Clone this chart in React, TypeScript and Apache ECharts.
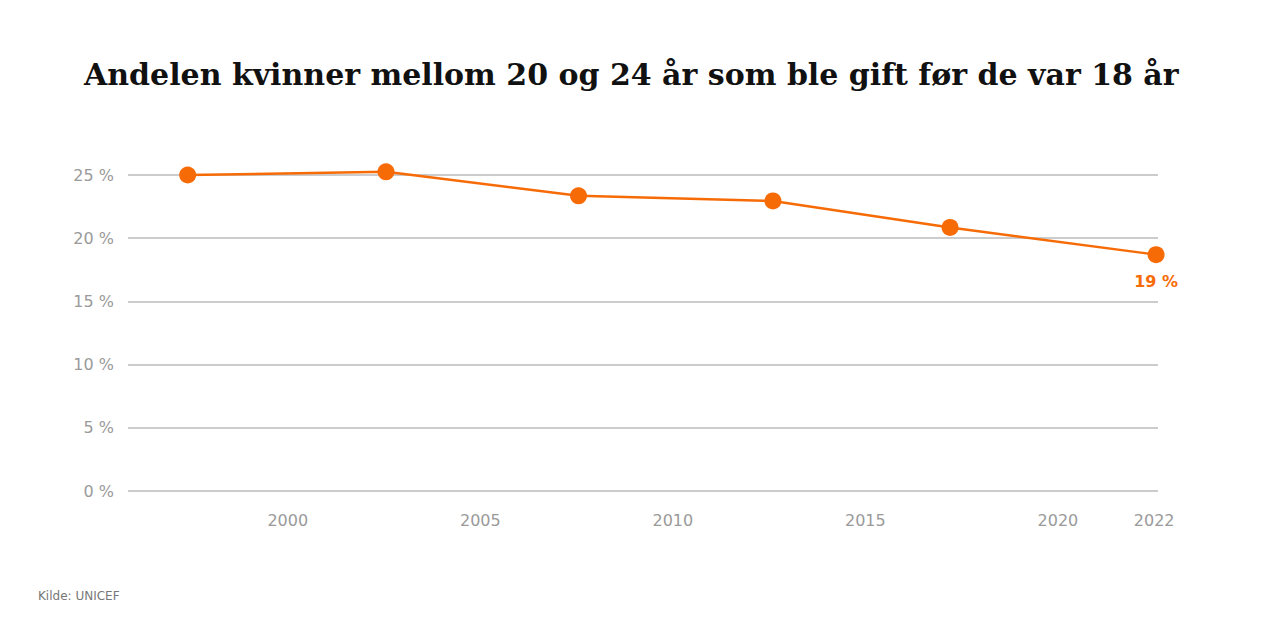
import React, { useEffect, useRef } from "react";
import * as echarts from "echarts";

const titleText = "Andelen kvinner mellom 20 og 24 år som ble gift før de var 18 år";
const sourceText = "Kilde: UNICEF";
const years = [1997.4, 2002.55, 2007.55, 2012.6, 2017.2, 2022.55];
const shares = [25.0, 25.25, 23.35, 22.95, 20.85, 18.7];
const lastLabel = "19 %";
const xTickValues = [2000, 2005, 2010, 2015, 2020, 2022.5];
const xTickLabels = ["2000", "2005", "2010", "2015", "2020", "2022"];
const yTicks = [0, 5, 10, 15, 20, 25];

const ORANGE = "#f76b07";

export default function App() {
  const ref = useRef<HTMLDivElement>(null);
  useEffect(() => {
    if (!ref.current) return;
    const chart = echarts.init(ref.current, null, { renderer: "svg" });
    chart.setOption({
      animation: false,
      backgroundColor: "#ffffff",
      title: {
        text: titleText,
        left: 71,
        top: 46,
        textStyle: {
          fontFamily: "DejaVu Serif",
          fontWeight: "bold",
          fontSize: 30,
          color: "#111111",
        },
      },
      graphic: [
        {
          type: "text",
          left: 30,
          top: 582,
          style: {
            text: sourceText,
            fontFamily: "DejaVu Sans",
            fontSize: 12,
            fill: "#777777",
          },
        },
      ],
      grid: { left: 120, right: 114, top: 167, bottom: 129, containLabel: false },
      xAxis: {
        type: "value",
        min: 1995.85,
        max: 2022.6,
        splitLine: { show: false },
        axisLine: { show: false },
        axisTick: { show: false },
        axisLabel: {
          customValues: xTickValues,
          formatter: (v: number) => {
            const i = xTickValues.findIndex((t) => Math.abs(t - v) < 0.01);
            return i >= 0 ? xTickLabels[i] : "";
          },
          margin: 21,
          fontFamily: "DejaVu Sans",
          fontSize: 16,
          color: "#9a9a9a",
        },
      },
      yAxis: {
        type: "value",
        min: 0,
        max: 25,
        interval: 5,
        axisLine: { show: false },
        axisTick: { show: false },
        splitLine: { lineStyle: { color: "#cccccc", width: 2 } },
        axisLabel: {
          formatter: (v: number) => (yTicks.includes(v) ? `${v} %` : ""),
          margin: 14,
          fontFamily: "DejaVu Sans",
          fontSize: 16,
          color: "#9a9a9a",
        },
      },
      series: [
        {
          type: "line",
          clip: false,
          data: years.map((y, i) => [y, shares[i]]),
          symbol: "circle",
          symbolSize: 17,
          lineStyle: { color: ORANGE, width: 2.5 },
          itemStyle: { color: ORANGE },
          label: {
            show: true,
            position: "bottom",
            distance: 10,
            formatter: (p: any) => (p.dataIndex === years.length - 1 ? lastLabel : ""),
            fontFamily: "DejaVu Sans",
            fontWeight: "bold",
            fontSize: 16,
            color: ORANGE,
          },
        },
      ],
    });
    return () => chart.dispose();
  }, []);
  return <div ref={ref} style={{ width: 1264, height: 612 }} />;
}
